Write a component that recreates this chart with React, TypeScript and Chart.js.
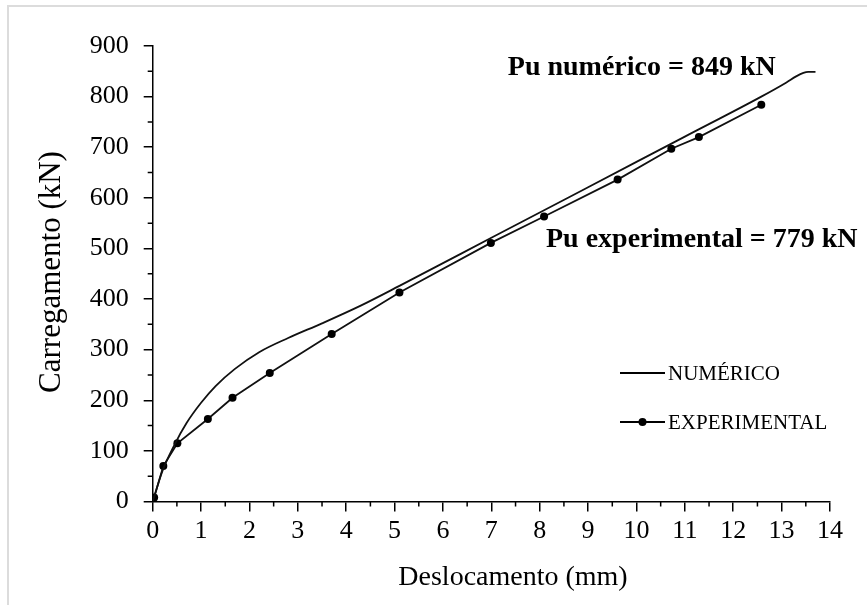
import React, { useEffect, useRef } from "react";
import { Chart, registerables } from "chart.js";

Chart.register(...registerables);

// Numerical (FE) curve
const numX = [0, 0.2, 0.45, 0.7, 1.0, 1.3, 1.7, 2.2, 2.8, 3.5, 4.3, 5.1, 7.0, 9.0, 11.0, 12.58, 13.1, 13.3, 13.45, 13.55, 13.7];
const numY = [0, 60, 112, 155, 195, 228, 262, 295, 323, 352, 387, 426, 521, 621, 721, 800, 828, 840, 847, 849, 849];

// Experimental points
const expX = [0, 0.03, 0.22, 0.51, 1.14, 1.65, 2.42, 3.7, 5.1, 6.99, 8.09, 9.61, 10.72, 11.29, 12.58];
const expY = [0, 8, 70, 115, 163, 205, 254, 331, 413, 511, 563, 636, 697, 720, 784];

const xTicksMax = 14;
const yTicksMax = 900;

const seriesNames = ["NUMÉRICO", "EXPERIMENTAL"];
const annoNum = "Pu numérico = 849 kN";
const annoExp = "Pu experimental = 779 kN";
const xTitle = "Deslocamento (mm)";
const yTitle = "Carregamento (kN)";

const FONT = "'Liberation Serif', 'Times New Roman', serif";

export default function App() {
  const ref = useRef<HTMLCanvasElement>(null);
  useEffect(() => {
    if (!ref.current) return;
    const overlay = {
      id: "overlay",
      afterDraw(chart: any) {
        const ctx = chart.ctx;
        const a = chart.chartArea;
        const xs = chart.scales.x;
        const ys = chart.scales.y;
        ctx.save();
        // minor ticks
        ctx.strokeStyle = "#000";
        ctx.lineWidth = 1.5;
        ctx.beginPath();
        for (let v = 0.5; v < xTicksMax; v += 1) {
          const px = xs.getPixelForValue(v);
          ctx.moveTo(px, a.bottom);
          ctx.lineTo(px, a.bottom + 5);
        }
        for (let v = 50; v < yTicksMax; v += 100) {
          const py = ys.getPixelForValue(v);
          ctx.moveTo(a.left - 5, py);
          ctx.lineTo(a.left, py);
        }
        ctx.stroke();

        // axis titles
        ctx.fillStyle = "#000";
        ctx.font = `28px ${FONT}`;
        ctx.textAlign = "center";
        ctx.textBaseline = "middle";
        ctx.fillText(xTitle, 513, 578);
        ctx.save();
        ctx.translate(52, 272);
        ctx.rotate(-Math.PI / 2);
        ctx.font = `31px ${FONT}`;
        ctx.fillText(yTitle, 0, 0);
        ctx.restore();

        // annotations
        ctx.font = `bold 28px ${FONT}`;
        ctx.textAlign = "left";
        ctx.textBaseline = "alphabetic";
        ctx.fillText(annoNum, xs.getPixelForValue(7.34), ys.getPixelForValue(842));
        ctx.fillText(annoExp, xs.getPixelForValue(8.13), ys.getPixelForValue(503));

        // legend
        ctx.font = `21px ${FONT}`;
        ctx.textBaseline = "middle";
        const lx0 = 620, lx1 = 665, tx = 668;
        const ly = [373, 422];
        ctx.lineWidth = 1.8;
        ctx.strokeStyle = "#000";
        for (let i = 0; i < 2; i++) {
          ctx.beginPath();
          ctx.moveTo(lx0, ly[i]);
          ctx.lineTo(lx1, ly[i]);
          ctx.stroke();
          if (i === 1) {
            ctx.beginPath();
            ctx.arc((lx0 + lx1) / 2, ly[i], 4, 0, Math.PI * 2);
            ctx.fill();
          }
          ctx.fillText(seriesNames[i], tx, ly[i] + 1);
        }
        ctx.restore();
      },
    };

    const chart = new Chart(ref.current, {
      type: "line",
      data: {
        datasets: [
          {
            label: seriesNames[0],
            data: numX.map((x, i) => ({ x, y: numY[i] })),
            borderColor: "#111",
            borderWidth: 1.8,
            pointRadius: 0,
            cubicInterpolationMode: "monotone",
            fill: false,
          },
          {
            label: seriesNames[1],
            data: expX.map((x, i) => ({ x, y: expY[i] })),
            borderColor: "#111",
            backgroundColor: "#000",
            borderWidth: 1.8,
            pointRadius: 4,
            pointBackgroundColor: "#000",
            pointBorderWidth: 0,
            tension: 0,
            fill: false,
          },
        ],
      },
      options: {
        animation: false,
        responsive: false,
        maintainAspectRatio: false,
        layout: { padding: { top: 46, right: 37, left: 8, bottom: 10 } },
        plugins: { legend: { display: false }, tooltip: { enabled: false } },
        scales: {
          x: {
            type: "linear",
            min: 0,
            max: xTicksMax,
            grid: { drawOnChartArea: false, drawTicks: true, tickLength: 10, color: "#000", lineWidth: 1.5 },
            border: { display: true, color: "#000", width: 1.5 },
            ticks: { stepSize: 1, color: "#000", font: { family: FONT, size: 26 }, padding: 4, maxRotation: 0 },
            afterFit: (s: any) => { s.height = 605 - 10 - 501.5; },
          },
          y: {
            type: "linear",
            min: 0,
            max: yTicksMax,
            grid: { drawOnChartArea: false, drawTicks: true, tickLength: 9, color: "#000", lineWidth: 1.5 },
            border: { display: true, color: "#000", width: 1.5 },
            ticks: { stepSize: 100, color: "#000", font: { family: FONT, size: 26 }, padding: 15 },
            afterFit: (s: any) => { s.width = 152.7 - 8; },
          },
        },
      },
      plugins: [overlay],
    });
    return () => chart.destroy();
  }, []);

  return (
    <>
      <div
        style={{
          position: "absolute",
          left: 7,
          top: 5,
          width: 860,
          height: 600,
          borderTop: "2px solid #dcdcdc",
          borderLeft: "2px solid #dcdcdc",
          boxSizing: "border-box",
        }}
      />
      <canvas
        ref={ref}
        width={867}
        height={605}
        style={{ position: "absolute", left: 0, top: 0, width: 867, height: 605 }}
      />
    </>
  );
}
